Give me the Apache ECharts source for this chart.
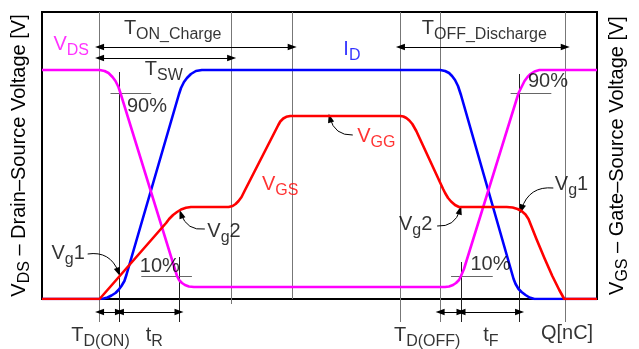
<!DOCTYPE html>
<html>
<head>
<meta charset="utf-8">
<script src="https://cdn.jsdelivr.net/npm/echarts@6/dist/echarts.min.js"></script>
<style>html,body{margin:0;padding:0;background:#fff}#c{width:639px;height:349px}</style>
</head>
<body>
<div id="c"></div>
<script>
// ---- Curve data (x = gate charge / time, y = level) ----
const vdsPoints = [[42,229],[100,229],[105,228],[109,226],[113,222],[116,218],[119,212],[121,206],[178,23],[180,19],[183,16],[186,14],[190,12.5],[195,12],
  [448,12],[452,12.5],[456,14],[459,16],[462,19],[464,23],[467,30],[522,206],[525,212],[528,218],[531,222],[534,225],[538,227.5],[543,229],[601,229]];
const idPoints = [[42,0],[100,0],[104,0.5],[108,1.5],[112,3.5],[116,6],[119,9],[122,13],[125,18],[127,24],[180,205],[182,211],[185,217],[188,221],[192,225],[197,228],[203,229],
  [443,229],[448,228],[452,226],[455,223],[458,219],[461,213],[464,204],[517,20],[519,15],[522,10],[525,7],[529,4],[533,1.5],[538,0],[601,0]];
const vgsPoints = [[42,0],[100,0],[167,76],[170,80],[174,84],[178,87],[182,89.5],[187,91.2],[192,92],[230,92],[234,93],[237,95],[240,98],[243,102],[246,108],
  [280,174],[282,177.5],[285,180.5],[288,182.2],[292,183],[296,183],[403,183],[406,182.5],[409,181],[412,178.5],[415,175],[419,168],[446,110],[448,106],[451,101],[454,97.5],[458,94],[462,92],
  [510,92],[516,91.5],[521,90],[525,88],[529,84.5],[532,80],[540,60],[548,41],[556,23],[563,9],[568,0],[601,0]];

// ---- Guide lines: [x, yFrom, yTo] ----
const mainGuides = [[100,287,-23],[233,287,-5],[294,287,0],[403,287,-23],[443,287,-23],[569,287,-23]];
const subGuides = [[120,227,-23],[180,42,-23],[464,37,-23],[523,225,-23]];
// ---- Level ticks: [xFrom, xTo, y] ----
const levelTicks = [[111,152,206],[514,555,206],[142,193,23],[454,496,23]];
// ---- Interval arrows: [xFrom, xTo, y] ----
const intervals = [[100,294,252],[100,233,241],[403,569,252],[100,120,-13],[120,180,-13],[443,464,-13],[464,523,-13]];
// ---- Pointer arrows: [xFrom, yFrom, xTo, yTo, curveness] ----
const pointers = [[355,164,332,181,0.4],[206,70,182,85,0.4],[88,45,119,27,0.4],[440,73,463,89,-0.4],[557,111,525,90,-0.4]];
// ---- Text labels: [text, x, y, colour] ----
const labels = [
  ['{m|V}{s|DS}',54,264,'#ff00ff'],
  ['{m|T}{s|ON_Charge}',125,280,'#000'],
  ['{m|T}{s|SW}',146,239,'#000'],
  ['{m|90%}',128,202,'#000'],
  ['{m|I}{s|D}',346,259,'#0000ff'],
  ['{m|T}{s|OFF_Discharge}',425,280,'#000'],
  ['{m|90%}',532,227,'#000'],
  ['{m|V}{s|GG}',360,172,'#ff0000'],
  ['{m|V}{s|GS}',264,124,'#ff0000'],
  ['{m|V}{s|g}{m|2}',209,77,'#000'],
  ['{m|V}{s|g}{m|1}',52,55,'#000'],
  ['{m|10%}',141,42,'#000'],
  ['{m|V}{s|g}{m|2}',402,84,'#000'],
  ['{m|V}{s|g}{m|1}',559,124,'#000'],
  ['{m|10%}',474,44,'#000'],
  ['{m|T}{s|D(ON)}',72,-27,'#000'],
  ['{m|t}{s|R}',147,-27,'#000'],
  ['{m|T}{s|D(OFF)}',397,-27,'#000'],
  ['{m|t}{s|F}',487,-27,'#000'],
  ['{m|Q[nC]}',545,-25,'#000']
];
const leftTitle = '{m|V}{s|DS}{m| – Drain–Source Voltage [V]}';
const rightTitle = '{m|V}{s|GS}{m| – Gate–Source Voltage [V]}';

const FONT = 'Liberation Sans, Arial, Helvetica, sans-serif';
const rich = {
  m: {fontFamily: FONT, fontSize: 20, lineHeight: 22, verticalAlign: 'top'},
  s: {fontFamily: FONT, fontSize: 16, lineHeight: 16, verticalAlign: 'top', padding: [8,0,0,0]}
};
const ARROW = 'path://M0,0M10,10M5,0L8.5,10L1.5,10Z';

function curve(name, pts, color) {
  return {type: 'line', name, data: pts, smooth: false, showSymbol: false, symbol: 'none',
    lineStyle: {color, width: 2.6, join: 'round'}, silent: true, z: 5};
}

const chart = echarts.init(document.getElementById('c'), null, {renderer: 'canvas'});
chart.setOption({
  animation: false,
  grid: {left: 42, right: 38, top: 12, bottom: 50, show: true, borderColor: '#000', borderWidth: 2},
  xAxis: {type: 'value', min: 42, max: 601, axisLine: {show: true, onZero: true, lineStyle: {color: '#000', width: 2}},
    axisTick: {show: false}, axisLabel: {show: false}, splitLine: {show: false}},
  yAxis: [
    {type: 'value', min: 0, max: 287, position: 'left', axisLine: {show: true, lineStyle: {color: '#000', width: 2}},
      axisTick: {show: false}, axisLabel: {show: false}, splitLine: {show: false},
      name: leftTitle, nameLocation: 'middle', nameRotate: 90, nameGap: 11, nameTextStyle: {color: '#000', rich}},
    {type: 'value', min: 0, max: 287, position: 'right', axisLine: {show: true, lineStyle: {color: '#000', width: 2}},
      axisTick: {show: false}, axisLabel: {show: false}, splitLine: {show: false},
      name: rightTitle, nameLocation: 'middle', nameRotate: 90, nameGap: 10, nameTextStyle: {color: '#000', rich}}
  ],
  series: [
    {type: 'lines', coordinateSystem: 'cartesian2d', clip: false, silent: true, z: 2, symbol: ['none','none'],
      lineStyle: {color: '#777', width: 1, opacity: 1},
      data: mainGuides.map(g => ({coords: [[g[0], g[1]], [g[0], g[2]]]}))},
    {type: 'lines', coordinateSystem: 'cartesian2d', clip: false, silent: true, z: 2, symbol: ['none','none'],
      lineStyle: {color: '#222', width: 1, opacity: 1},
      data: subGuides.map(g => ({coords: [[g[0], g[1]], [g[0], g[2]]]}))},
    {type: 'lines', coordinateSystem: 'cartesian2d', clip: false, silent: true, z: 2, symbol: ['none','none'],
      lineStyle: {color: '#666', width: 1, opacity: 1},
      data: levelTicks.map(t => ({coords: [[t[0], t[2]], [t[1], t[2]]]}))},
    {type: 'lines', coordinateSystem: 'cartesian2d', clip: false, silent: true, z: 3, symbol: [ARROW, ARROW], symbolSize: 9,
      lineStyle: {color: '#000', width: 1, opacity: 1},
      data: intervals.map(a => ({coords: [[a[0], a[2]], [a[1], a[2]]]}))},
    {type: 'lines', coordinateSystem: 'cartesian2d', clip: false, silent: true, z: 3, symbol: ['none', ARROW], symbolSize: 9,
      lineStyle: {color: '#000', width: 1, opacity: 1},
      data: pointers.map(p => ({coords: [[p[0], p[1]], [p[2], p[3]]], lineStyle: {curveness: p[4]}}))},
    curve('ID', idPoints, '#0000ff'),
    curve('VDS', vdsPoints, '#ff00ff'),
    curve('VGS', vgsPoints, '#ff0000'),
    {type: 'scatter', clip: false, silent: true, symbolSize: 1, itemStyle: {color: 'rgba(0,0,0,0)'}, z: 6,
      label: {show: true, position: [0, 0], align: 'left', verticalAlign: 'top', fontFamily: FONT, rich},
      data: labels.map(l => ({value: [l[1], l[2]], label: {formatter: l[0], color: l[3]}}))}
  ]
});
</script>
</body>
</html>
